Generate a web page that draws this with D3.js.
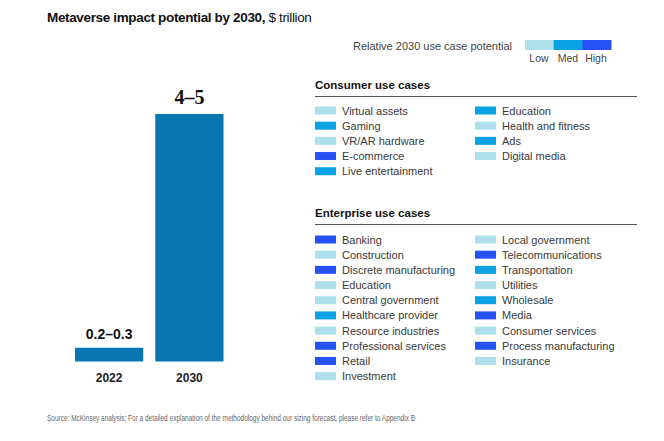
<!DOCTYPE html>
<html><head><meta charset="utf-8">
<script src="https://cdn.jsdelivr.net/npm/d3@7"></script>
<style>
html,body{margin:0;padding:0;background:#fff;}
svg{display:block;font-family:"Liberation Sans",Arial,sans-serif;}
</style></head>
<body><svg id="c" width="664" height="441"></svg>
<script>
const years = ["2022", "2030"];
const values = [0.25, 4.5];
const valueLabels = ["0.2–0.3", "4–5"];
const levels = ["Low", "Med", "High"];
const levelColors = ["#aee0ec", "#0ba2e4", "#2651f4"];
const consumerCol1 = ["Virtual assets", "Gaming", "VR/AR hardware", "E-commerce", "Live entertainment"];
const consumerCol1Level = ["Low", "Med", "Low", "High", "Med"];
const consumerCol2 = ["Education", "Health and fitness", "Ads", "Digital media"];
const consumerCol2Level = ["Med", "Low", "Med", "Low"];
const enterpriseCol1 = ["Banking", "Construction", "Discrete manufacturing", "Education", "Central government", "Healthcare provider", "Resource industries", "Professional services", "Retail", "Investment"];
const enterpriseCol1Level = ["High", "Low", "High", "Low", "Low", "Med", "Low", "High", "High", "Low"];
const enterpriseCol2 = ["Local government", "Telecommunications", "Transportation", "Utilities", "Wholesale", "Media", "Consumer services", "Process manufacturing", "Insurance"];
const enterpriseCol2Level = ["Low", "High", "Med", "Low", "Med", "High", "Low", "High", "Low"];

const svg = d3.select("#c");
const color = d3.scaleOrdinal().domain(levels).range(levelColors);

// Title
const t = svg.append("text").attr("x", 47).attr("y", 22).attr("font-size", 13.5).attr("fill", "#111")
  .attr("letter-spacing", -0.35);
t.append("tspan").attr("font-weight", "bold").text("Metaverse impact potential by 2030,");
t.append("tspan").text(" $ trillion");

// Bars
const x = d3.scaleBand().domain(years).range([75, 223.5]).paddingInner(0.15).paddingOuter(0);
const y = d3.scaleLinear().domain([0, 4.5]).range([361.5, 114]);
svg.selectAll("rect.bar").data(years).join("rect").attr("class", "bar")
  .attr("x", d => x(d)).attr("width", x.bandwidth())
  .attr("y", (d, i) => y(values[i])).attr("height", (d, i) => y(0) - y(values[i]))
  .attr("fill", "#0a76b1");
svg.selectAll("text.vl").data(years).join("text").attr("class", "vl")
  .attr("x", d => x(d) + x.bandwidth() / 2)
  .attr("y", (d, i) => y(values[i]) - (i === 1 ? 10 : 9))
  .attr("text-anchor", "middle")
  .attr("font-weight", "bold")
  .attr("font-family", (d, i) => i === 1 ? "'Liberation Serif','DejaVu Serif',serif" : null)
  .attr("font-size", (d, i) => i === 1 ? 20 : 14)
  .attr("fill", "#111")
  .text((d, i) => valueLabels[i]);
const xAxis = svg.append("g").attr("transform", "translate(0,361.5)")
  .call(d3.axisBottom(x).tickSize(0).tickPadding(12));
xAxis.select(".domain").remove();
xAxis.selectAll("text").attr("font-size", 12).attr("font-weight", "bold").attr("fill", "#222")
  .attr("font-family", "'Liberation Sans',Arial,sans-serif");

// Potential legend
svg.append("text").attr("x", 512).attr("y", 50).attr("text-anchor", "end")
  .attr("font-size", 11).attr("fill", "#444").text("Relative 2030 use case potential");
const lx = d3.scaleBand().domain(levels).range([525, 611]);
svg.selectAll("rect.lg").data(levels).join("rect").attr("class", "lg")
  .attr("x", d => lx(d)).attr("y", 40).attr("width", lx.bandwidth() + 0.5).attr("height", 10)
  .attr("fill", d => color(d));
const lblX = {Low: 539, Med: 568, High: 596};
svg.selectAll("text.lgl").data(levels).join("text").attr("class", "lgl")
  .attr("x", d => lblX[d]).attr("y", 62).attr("text-anchor", "middle")
  .attr("font-size", 10.5).attr("fill", "#444").text(d => d);

function section(title, headerY, lineY, rowsTop, cols) {
  svg.append("text").attr("x", 315).attr("y", headerY).attr("font-size", 11.5)
    .attr("font-weight", "bold").attr("fill", "#111").text(title);
  svg.append("line").attr("x1", 315).attr("x2", 637).attr("y1", lineY).attr("y2", lineY)
    .attr("stroke", "#555").attr("stroke-width", 1);
  cols.forEach(([names, lv, cx]) => {
    const g = svg.append("g");
    const rows = g.selectAll("g").data(names).join("g")
      .attr("transform", (d, i) => `translate(${cx},${rowsTop + i * 15.18})`);
    rows.append("rect").attr("width", 21).attr("height", 8).attr("fill", (d, i) => color(lv[i]));
    rows.append("text").attr("x", 27).attr("y", 8).attr("font-size", 11).attr("fill", "#3a3a3a").text(d => d);
  });
}
section("Consumer use cases", 88.5, 96.5, 106.5, [[consumerCol1, consumerCol1Level, 315], [consumerCol2, consumerCol2Level, 475]]);
section("Enterprise use cases", 216.5, 224.5, 235.5, [[enterpriseCol1, enterpriseCol1Level, 315], [enterpriseCol2, enterpriseCol2Level, 475]]);

// Source
svg.append("text").attr("x", 47).attr("y", 421).attr("font-size", 8.5).attr("fill", "#666")
  .attr("textLength", 368).attr("lengthAdjust", "spacingAndGlyphs")
  .text("Source: McKinsey analysis; For a detailed explanation of the methodology behind our sizing forecast, please refer to Appendix B");
</script></body></html>
